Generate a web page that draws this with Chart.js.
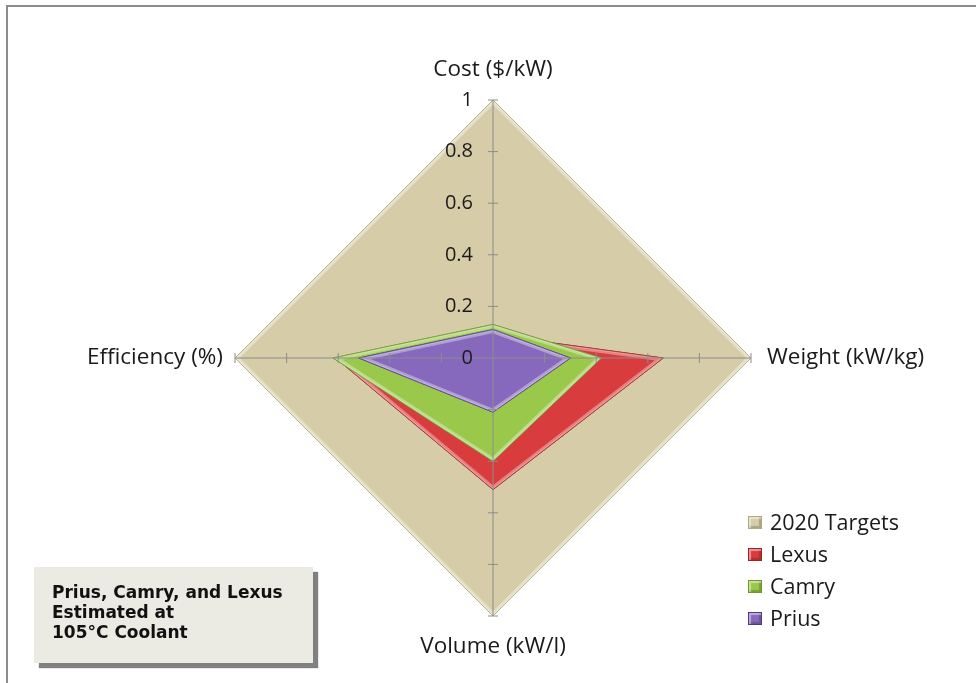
<!DOCTYPE html>
<html>
<head>
<meta charset="utf-8">
<script src="https://cdn.jsdelivr.net/npm/chart.js@4.4.1/dist/chart.umd.min.js"></script>
<style>
  html, body { margin: 0; padding: 0; background: #ffffff; }
  #wrap { position: relative; width: 976px; height: 683px; overflow: hidden; }
  #frame { position: absolute; left: 6px; top: 5px; right: -10px; bottom: -10px;
           border-top: 2px solid #8c8c8c; border-left: 2px solid #8c8c8c; }
  canvas { position: absolute; left: 0; top: 0; }
  #legend { position: absolute; left: 748px; top: 506px; font-family: "Open Sans", Lato, sans-serif;
            font-size: 21.5px; color: #1a1a1a; }
  #legend .item { height: 32px; line-height: 32px; display: flex; align-items: center; }
  #legend .sw { width: 14px; height: 13px; margin-right: 8px; box-sizing: border-box; }
  #note { position: absolute; left: 34px; top: 567px; width: 279px; height: 96px;
          background: #ecebe3; box-shadow: 5px 5px 1px #808080; box-sizing: border-box;
          padding: 15px 0 0 18px; font-family: "DejaVu Sans", Verdana, sans-serif; font-weight: bold;
          font-size: 17px; line-height: 20px; color: #111; }
</style>
</head>
<body>
<div id="wrap">
  <div id="frame"></div>
  <canvas id="c" width="976" height="683"></canvas>
  <div id="legend"></div>
  <div id="note">Prius, Camry, and Lexus<br>Estimated at<br>105°C Coolant</div>
</div>
<script>
const axisLabels = ['Cost ($/kW)', 'Weight (kW/kg)', 'Volume (kW/l)', 'Efficiency (%)'];
const seriesNames = ['2020 Targets', 'Lexus', 'Camry', 'Prius'];
const targets2020 = [1, 1, 1, 1];
const lexus = [0.09, 0.66, 0.51, 0.61];
const camry = [0.13, 0.42, 0.40, 0.62];
const prius = [0.11, 0.30, 0.21, 0.52];
const tickValues = [0, 0.2, 0.4, 0.6, 0.8, 1];
const tickLabels = ['0', '0.2', '0.4', '0.6', '0.8', '1'];

const fills = ['#d6cca8', '#d93c3c', '#99c84a', '#8669bd'];
const edges = ['#b3a87f', '#9e2424', '#6e9a2a', '#4f3a86'];
const seriesValues = [targets2020, lexus, camry, prius];

const datasets = seriesNames.map((name, i) => ({
  label: name,
  data: seriesValues[i],
  backgroundColor: fills[i],
  borderColor: edges[i],
  borderWidth: 1,
  pointRadius: 0,
  pointHoverRadius: 0,
  order: 4 - i
}));

const bevelPlugin = {
  id: 'bevel',
  afterDatasetDraw(chart, args) {
    const pts = args.meta.data;
    if (!pts.length) return;
    const ctx = chart.ctx;
    const path = () => {
      ctx.beginPath();
      pts.forEach((p, k) => { if (k === 0) ctx.moveTo(p.x, p.y); else ctx.lineTo(p.x, p.y); });
      ctx.closePath();
    };
    ctx.save();
    path();
    ctx.clip();
    ctx.lineJoin = 'miter';
    ctx.strokeStyle = 'rgba(255,255,255,0.35)';
    ctx.lineWidth = 7;
    ctx.stroke();
    ctx.strokeStyle = 'rgba(255,255,255,0.25)';
    ctx.lineWidth = 3;
    ctx.stroke();
    ctx.restore();
    ctx.save();
    path();
    ctx.strokeStyle = edges[args.index];
    ctx.globalAlpha = 0.6;
    ctx.lineWidth = 1;
    ctx.stroke();
    ctx.restore();
  }
};

const axisPlugin = {
  id: 'axisDecor',
  afterDraw(chart) {
    const s = chart.scales.r;
    const ctx = chart.ctx;
    ctx.save();
    ctx.strokeStyle = '#8c8c8c';
    ctx.lineWidth = 1;
    for (let i = 0; i < axisLabels.length; i++) {
      const outerPt = s.getPointPosition(i, s.getDistanceFromCenterForValue(1));
      ctx.beginPath();
      ctx.moveTo(s.xCenter, s.yCenter);
      ctx.lineTo(outerPt.x, outerPt.y);
      ctx.stroke();
      tickValues.forEach(v => {
        if (v === 0) return;
        const d = s.getDistanceFromCenterForValue(v);
        const p = s.getPointPosition(i, d);
        const px = -Math.sin(p.angle), py = Math.cos(p.angle);
        ctx.beginPath();
        ctx.moveTo(p.x - px * 5, p.y - py * 5);
        ctx.lineTo(p.x + px * 5, p.y + py * 5);
        ctx.stroke();
      });
    }
    ctx.fillStyle = '#1a1a1a';
    ctx.font = '20px "Open Sans", Lato, sans-serif';
    ctx.textAlign = 'right';
    ctx.textBaseline = 'middle';
    tickValues.forEach((v, k) => {
      const d = s.getDistanceFromCenterForValue(v);
      const p = s.getPointPosition(0, d);
      ctx.fillText(tickLabels[k], p.x - 20, p.y);
    });
    ctx.font = '22.5px "Open Sans", Lato, sans-serif';
    const outer = s.getDistanceFromCenterForValue(1);
    const t0 = s.getPointPosition(0, outer + 30);
    ctx.textAlign = 'center';
    ctx.fillText(axisLabels[0], t0.x, t0.y);
    const t1 = s.getPointPosition(1, outer + 16);
    ctx.textAlign = 'left';
    ctx.fillText(axisLabels[1], t1.x, t1.y);
    const t2 = s.getPointPosition(2, outer + 31);
    ctx.textAlign = 'center';
    ctx.fillText(axisLabels[2], t2.x, t2.y);
    const t3 = s.getPointPosition(3, outer + 12);
    ctx.textAlign = 'right';
    ctx.fillText(axisLabels[3], t3.x, t3.y);
    ctx.restore();
  }
};

new Chart(document.getElementById('c'), {
  type: 'radar',
  data: { labels: axisLabels, datasets },
  options: {
    responsive: false,
    animation: false,
    layout: { padding: { left: 10, right: 0, top: 100, bottom: 67 } },
    plugins: { legend: { display: false }, tooltip: { enabled: false } },
    elements: { line: { tension: 0 } },
    scales: {
      r: {
        min: 0,
        max: 1,
        ticks: { display: false, stepSize: 0.2 },
        grid: { display: false },
        angleLines: { display: false },
        pointLabels: { display: false }
      }
    }
  },
  plugins: [bevelPlugin, axisPlugin]
});

const legend = document.getElementById('legend');
seriesNames.forEach((name, i) => {
  const item = document.createElement('div');
  item.className = 'item';
  const sw = document.createElement('span');
  sw.className = 'sw';
  sw.style.background = fills[i];
  sw.style.border = '1px solid ' + edges[i];
  sw.style.boxShadow = 'inset 2px 2px 1px rgba(255,255,255,0.45), inset -2px -2px 1px rgba(0,0,0,0.2)';
  const tx = document.createElement('span');
  tx.textContent = name;
  item.appendChild(sw);
  item.appendChild(tx);
  legend.appendChild(item);
});
</script>
</body>
</html>
